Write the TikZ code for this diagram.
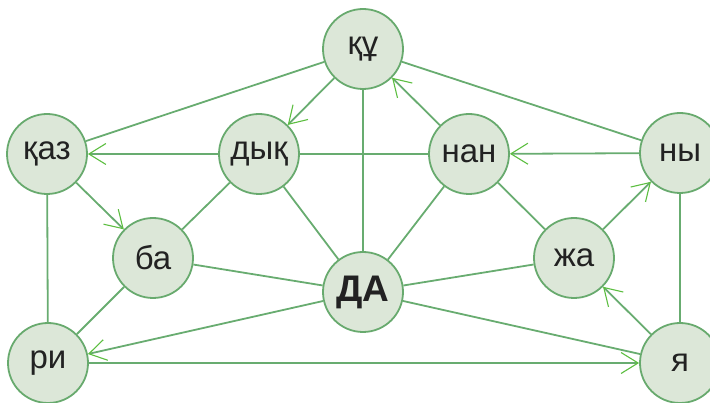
\documentclass[tikz,border=0pt]{standalone}
\usepackage{fontspec}
\setmainfont{Liberation Sans}
\usetikzlibrary{arrows.meta}
\definecolor{edgegreen}{RGB}{104,172,112}
\definecolor{tipgreen}{RGB}{92,190,64}
\definecolor{ringgreen}{RGB}{104,170,110}
\definecolor{fillgreen}{RGB}{220,231,216}
\definecolor{inkgray}{RGB}{34,34,34}

\begin{document}
\begin{tikzpicture}[x=1pt,y=-1pt,every node/.style={font=\fontsize{33}{38}\selectfont,text=inkgray},syl/.style={circle,draw=ringgreen,line width=1.8pt,fill=fillgreen,minimum size=80pt,inner sep=0pt},ln/.style={draw=edgegreen,line width=1.8pt},arr/.style={ln,-{Straight Barb[length=17pt,width=21pt,line width=1.1pt,color=tipgreen]}}]
\useasboundingbox (0,0) rectangle (710,403);
\node[syl] (ku) at (363,49) {құ};
\node[syl] (kaz) at (47,154) {қаз};
\node[syl] (dyk) at (259,154) {дық};
\node[syl] (nan) at (469,154) {нан};
\node[syl] (ny) at (680,153) {ны};
\node[syl] (ba) at (153,258) {ба};
\node[syl,font=\fontsize{37}{42}\selectfont\bfseries] (da) at (363,292) {ДА};
\node[syl] (zha) at (574,258) {жа};
\node[syl] (ri) at (48,363) {ри};
\node[syl] (ya) at (680,363) {я};
% plain links
\draw[ln] (ku)--(kaz);
\draw[ln] (ku)--(da);
\draw[ln] (ku)--(ny);
\draw[ln] (dyk)--(nan);
\draw[ln] (kaz)--(ri);
\draw[ln] (dyk)--(ba);
\draw[ln] (dyk)--(da);
\draw[ln] (nan)--(da);
\draw[ln] (nan)--(zha);
\draw[ln] (ny)--(ya);
\draw[ln] (ba)--(da);
\draw[ln] (ba)--(ri);
\draw[ln] (da)--(zha);
\draw[ln] (da)--(ya);
% arrows
\draw[arr] (ku)--(dyk);
\draw[arr] (nan)--(ku);
\draw[arr] (dyk)--(kaz);
\draw[arr] (ny)--(nan);
\draw[arr] (kaz)--(ba);
\draw[arr] (zha)--(ny);
\draw[arr] (da)--(ri);
\draw[arr] (ri)--(ya);
\draw[arr] (ya)--(zha);
\end{tikzpicture}
\end{document}
